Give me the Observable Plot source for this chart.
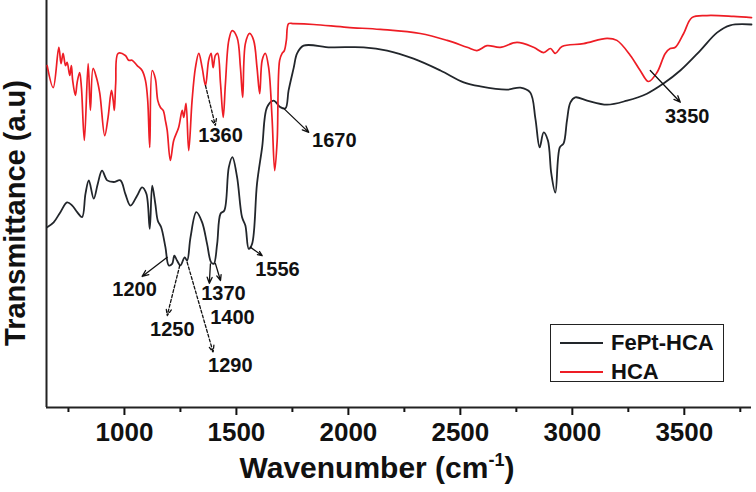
<!DOCTYPE html>
<html><head><meta charset="utf-8">
<script src="https://cdn.jsdelivr.net/npm/d3@7"></script>
<script src="https://cdn.jsdelivr.net/npm/@observablehq/plot@0.6"></script>
<style>
body{margin:0;background:#fff;}
#wrap{position:relative;width:756px;height:492px;font-family:"Liberation Sans",Arial,sans-serif;color:#111;}
#wrap svg{position:absolute;left:0;top:0;}
.xlabel{position:absolute;left:377px;top:453px;transform:translateX(-50%);font-size:30px;font-weight:bold;white-space:nowrap;line-height:1;}
.xlabel sup{font-size:18px;vertical-align:0;position:relative;top:-12px;}
.ylabel{position:absolute;left:15px;top:213px;transform:translate(-50%,-50%) rotate(-90deg);font-size:29px;font-weight:bold;white-space:nowrap;line-height:1;}
.legend{position:absolute;left:550px;top:324px;width:172px;height:56px;border:1.5px solid #222;background:#fff;}
.legend .row{position:absolute;left:0;height:24px;display:flex;align-items:center;}
.legend .sw{width:43px;height:0;border-top:2px solid;margin-left:9px;margin-right:8px;}
.legend .tx{font-size:22px;font-weight:bold;}
</style></head><body>
<div id="wrap"></div>
<script>
// Series names
const seriesNames = ["FePt-HCA", "HCA"];
const seriesColors = ["#22262b", "#ee1d25"];

// HCA spectrum (wavenumber, transmittance a.u.)
const hcaWn = [655,682,707,717,726,737,744,756,763,769,781,789,800,808,821,838,848,860,875,890,912,927,942,950,955,961,972,1004,1019,1034,1057,1079,1094,1104,1113,1124,1138,1149,1161,1173,1183,1191,1205,1220,1242,1258,1265,1275,1287,1302,1317,1332,1347,1362,1376,1387,1396,1406,1416,1429,1441,1451,1466,1481,1503,1518,1528,1540,1559,1577,1592,1604,1615,1629,1644,1659,1671,1682,1693,1704,1714,1723,1733,1756,1845,1994,2143,2321,2441,2530,2574,2619,2678,2753,2827,2872,2902,2924,2954,3050,3155,3199,3259,3303,3340,3378,3415,3437,3460,3497,3534,3601,3720,3800];
const hcaT = [84.0,78.6,88.5,84.5,87.0,84.0,84.8,81.6,84.0,80.3,76.7,79.9,82.3,78.6,65.6,84.5,73.0,83.3,81.1,77.2,66.8,71.3,77.9,75.4,73.0,79.6,87.0,86.5,85.3,85.3,84.0,82.8,80.3,75.4,63.9,82.8,80.8,75.4,73.7,73.0,70.5,68.1,60.7,65.6,68.8,73.0,71.3,74.7,63.1,75.4,83.5,87.0,83.5,79.1,85.3,87.0,83.5,86.5,87.0,79.6,71.3,79.6,90.2,92.6,90.9,83.5,76.2,89.4,91.9,90.2,83.5,77.1,85.3,87.0,83.5,71.3,58.2,65.6,85.3,87.0,87.7,90.2,94.3,94.3,94.1,93.4,92.9,91.9,90.2,88.5,87.7,88.9,88.5,89.7,88.5,87.2,88.2,87.0,88.7,89.4,90.7,90.2,86.5,82.8,80.1,82.3,87.0,88.2,88.5,91.9,95.8,96.3,96.1,95.8];

// FePt-HCA spectrum
const fepWn = [655,684,714,744,767,789,811,826,841,863,881,900,923,952,982,1004,1027,1057,1079,1098,1113,1124,1138,1149,1164,1183,1198,1213,1223,1235,1250,1269,1280,1295,1321,1347,1369,1387,1399,1414,1429,1446,1466,1482,1503,1525,1540,1555,1570,1592,1615,1637,1666,1696,1719,1733,1756,1771,1800,1920,2068,2173,2291,2411,2515,2589,2708,2768,2812,2835,2854,2872,2891,2906,2924,2944,2961,2976,2991,3013,3066,3155,3244,3333,3407,3482,3571,3646,3705,3800];
const fepT = [44.3,45.5,48.0,50.4,49.6,48.0,46.8,52.5,55.8,51.3,55.0,58.2,55.8,55.4,55.8,52.5,49.6,52.1,54.1,52.5,43.9,54.5,50.0,45.9,44.3,39.4,34.9,35.3,37.3,36.1,34.9,36.9,36.1,41.8,48.0,45.5,40.2,35.7,35.3,40.2,47.6,48.4,59.0,61.5,56.6,46.8,44.7,39.0,40.2,55.0,64.0,73.8,75.4,73.8,73.5,77.9,83.5,87.0,88.9,88.5,88.5,87.7,85.7,82.8,79.9,78.9,78.1,78.6,77.4,71.0,63.9,67.6,65.6,57.5,52.8,63.9,64.9,70.5,74.9,76.2,75.4,74.4,75.4,77.1,79.6,82.8,87.7,92.1,93.9,94.1];

// Axis ticks
const majorTicks = [1000,1500,2000,2500,3000,3500];
const minorTicks = [750,1250,1750,2250,2750,3250,3750];

// Peak annotations: label, arrow start (on curve), arrow end, label centre, dashed
const annLabels = ["1360","1670","1200","1250","1290","1370","1400","1556","3350"];
const annX1 = [1362,1711,1191,1247,1280,1384,1406,1562,3348];
const annY1 = [79.1,73.5,36.9,34.9,35.7,35.3,35.4,39.4,82.8];
const annX2 = [1406,1823,1079,1191,1396,1379,1429,1615,3482];
const annY2 = [69.3,67.6,32.2,22.6,13.6,30.5,31.2,37.3,75.0];
const annTx = [1429,1937,1045,1214,1473,1442,1482,1683,3513];
const annTy = [66.7,65.6,29.0,19.2,10.2,27.9,22.2,33.9,71.4];
const annDashed = [true,false,false,true,true,false,false,false,false];

const hca = hcaWn.map((w,i)=>({wn:w,t:hcaT[i]}));
const fep = fepWn.map((w,i)=>({wn:w,t:fepT[i]}));
const ann = annLabels.map((l,i)=>({label:l,x1:annX1[i],y1:annY1[i],x2:annX2[i],y2:annY2[i],tx:annTx[i],ty:annTy[i],dashed:annDashed[i]}));

const chart = Plot.plot({
  width:756, height:492,
  marginLeft:46, marginRight:5, marginTop:0, marginBottom:85,
  style:{fontFamily:"Liberation Sans, Arial, sans-serif", background:"transparent", color:"#111"},
  x:{domain:[652,3800]},
  y:{domain:[0,100], axis:null},
  marks:[
    Plot.axisX({ticks:majorTicks, tickSize:8, tickPadding:7, fontSize:26, fontWeight:"bold", strokeWidth:2, label:null, tickFormat:d=>String(d)}),
    Plot.axisX({ticks:minorTicks, tickSize:5, strokeWidth:2, label:null, tickFormat:()=>""}),
    Plot.ruleY([0],{strokeWidth:2, stroke:"#222"}),
    Plot.ruleX([652],{strokeWidth:2, stroke:"#222"}),
    Plot.line(fep,{x:"wn", y:"t", stroke:seriesColors[0], strokeWidth:1.8, curve:"catmull-rom"}),
    Plot.line(hca,{x:"wn", y:"t", stroke:seriesColors[1], strokeWidth:1.7, curve:"catmull-rom"}),
    Plot.arrow(ann.filter(d=>!d.dashed),{x1:"x1",y1:"y1",x2:"x2",y2:"y2", stroke:"#111", strokeWidth:1.3, headLength:8, headAngle:45}),
    Plot.arrow(ann.filter(d=>d.dashed),{x1:"x1",y1:"y1",x2:"x2",y2:"y2", stroke:"#111", strokeWidth:1.3, headLength:8, headAngle:45, strokeDasharray:"3,2"}),
    Plot.text(ann,{x:"tx", y:"ty", text:"label", fontSize:20, fontWeight:"bold", fill:"#111"})
  ]
});

const wrap = document.getElementById("wrap");
wrap.appendChild(chart);

const xl = document.createElement("div");
xl.className = "xlabel";
xl.innerHTML = "Wavenumber (cm<sup>-1</sup>)";
wrap.appendChild(xl);

const yl = document.createElement("div");
yl.className = "ylabel";
yl.textContent = "Transmittance (a.u)";
wrap.appendChild(yl);

const lg = document.createElement("div");
lg.className = "legend";
seriesNames.forEach((n,i)=>{
  const r = document.createElement("div");
  r.className = "row";
  r.style.top = (i===0 ? 6 : 35) + "px";
  r.innerHTML = `<span class="sw" style="border-color:${seriesColors[i]}"></span><span class="tx">${n}</span>`;
  lg.appendChild(r);
});
wrap.appendChild(lg);
</script>
</body></html>
